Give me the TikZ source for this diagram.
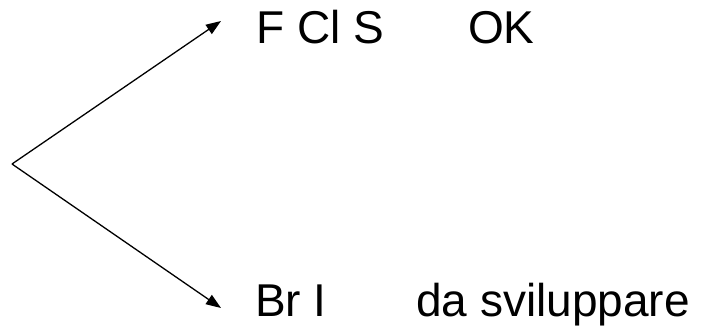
\documentclass[tikz,border=0pt]{standalone}
\usepackage{fontspec}
\setmainfont{Liberation Sans}
\usetikzlibrary{arrows.meta}
\begin{document}
\begin{tikzpicture}[x=1pt,y=1pt,
  lbl/.style={anchor=base west,inner sep=0pt,font=\fontsize{46}{50}\selectfont},
  conn/.style={line width=1.3pt,-{Triangle[length=15pt,width=11pt]}}]
\useasboundingbox (0,0) rectangle (703,327);
\coordinate (v) at (12,163);
\coordinate (t1) at (221,306);
\coordinate (t2) at (221,19);
\node[lbl] (a) at (256,283) {F Cl S};
\node[lbl] (ok) at (468,283) {OK};
\node[lbl] (b) at (255,11) {Br I};
\node[lbl] (dev) at (416,11) {da sviluppare};
\draw[conn] (v) -- (t1);
\draw[conn] (v) -- (t2);
\end{tikzpicture}
\end{document}
